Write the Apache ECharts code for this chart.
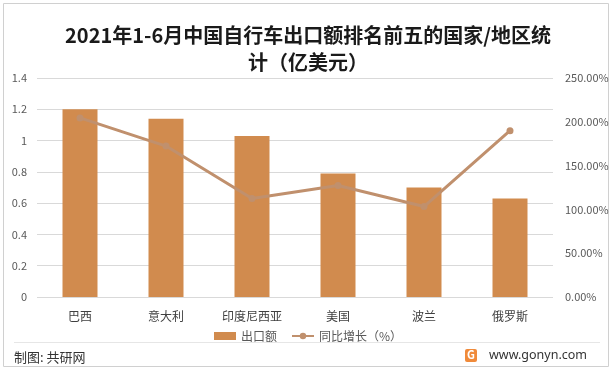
<!DOCTYPE html>
<html><head><meta charset="utf-8">
<script src="https://cdn.jsdelivr.net/npm/echarts@6/dist/echarts.min.js"></script>
<style>html,body{margin:0;padding:0;background:#fff}#c{width:616px;height:373px}</style>
</head><body><div id="c"></div>
<script>
var categories = ['巴西','意大利','印度尼西亚','美国','波兰','俄罗斯'];
var exportValues = [1.2, 1.14, 1.03, 0.79, 0.7, 0.63];
var growthValues = [204.4, 172.3, 112.4, 127.3, 103.3, 189.8];
var leftTicks = [0, 0.2, 0.4, 0.6, 0.8, 1.0, 1.2, 1.4];
var rightTicks = [0, 50, 100, 150, 200, 250];
var titleLines = ['2021年1-6月中国自行车出口额排名前五的国家/地区统', '计（亿美元）'];

var chart = echarts.init(document.getElementById('c'), null, {renderer:'canvas'});
var font = '"Microsoft YaHei","Noto Sans CJK SC",sans-serif';
chart.setOption({
  animation:false,
  textStyle:{fontFamily:font},
  grid:{left:37, right:63, top:78, bottom:76},
  legend:{
    bottom:26, left:'center', itemWidth:22, itemHeight:8, itemGap:14,
    textStyle:{fontSize:12, color:'#595959'},
    data:[{name:'出口额', icon:'rect'}, {name:'同比增长（%）'}]
  },
  xAxis:{
    type:'category', data:categories,
    axisLine:{show:false}, axisTick:{show:false},
    axisLabel:{color:'#404040', fontSize:12, margin:13}
  },
  yAxis:[{
    type:'value', min:0, max:1.4, interval:0.2,
    axisLabel:{color:'#595959', fontSize:11, margin:10,
      formatter:function(v){return leftTicks.indexOf(+v.toFixed(1))>=0 ? String(+v.toFixed(1)) : '';}},
    splitLine:{lineStyle:{color:'#d9d9d9', width:1}},
    axisLine:{show:false}, axisTick:{show:false}
  },{
    type:'value', min:0, max:250, interval:50,
    axisLabel:{color:'#595959', fontSize:11, margin:12,
      formatter:function(v){return rightTicks.indexOf(v)>=0 ? v.toFixed(2)+'%' : '';}},
    splitLine:{show:false}, axisLine:{show:false}, axisTick:{show:false}
  }],
  series:[{
    name:'出口额', type:'bar', data:exportValues, barWidth:35,
    itemStyle:{color:'#D18B4E'}
  },{
    name:'同比增长（%）', type:'line', yAxisIndex:1, data:growthValues,
    symbol:'circle', symbolSize:7,
    lineStyle:{color:'#C0906D', width:3},
    itemStyle:{color:'#C0906D'}
  }],
  graphic:[
    {type:'rect', shape:{x:3.5, y:3.5, width:605, height:363}, style:{fill:'none', stroke:'#d0d0d0', lineWidth:1}, silent:true},
    {type:'text', x:308, y:35, style:{text:titleLines[0], textAlign:'center', textVerticalAlign:'middle', fill:'#1a1a1a', font:'bold 20px '+font}},
    {type:'text', x:308, y:62, style:{text:titleLines[1], textAlign:'center', textVerticalAlign:'middle', fill:'#1a1a1a', font:'bold 20px '+font}},
    {type:'line', shape:{x1:14, y1:342.5, x2:600, y2:342.5}, style:{stroke:'#e6e6e6', lineWidth:1}},
    {type:'text', left:14, top:351, style:{text:'制图: 共研网', fill:'#333', font:'13px '+font}},
    {type:'rect', shape:{x:465, y:349, width:12, height:13, r:2}, style:{fill:'#F08A3A'}},
    {type:'text', left:467, top:349, style:{text:'G', fill:'#fff', font:'bold 11px '+font}},
    {type:'text', left:489, top:349, style:{text:'www.gonyn.com', fill:'#333', font:'12.5px "Noto Sans",sans-serif'}}
  ]
});
</script></body></html>
